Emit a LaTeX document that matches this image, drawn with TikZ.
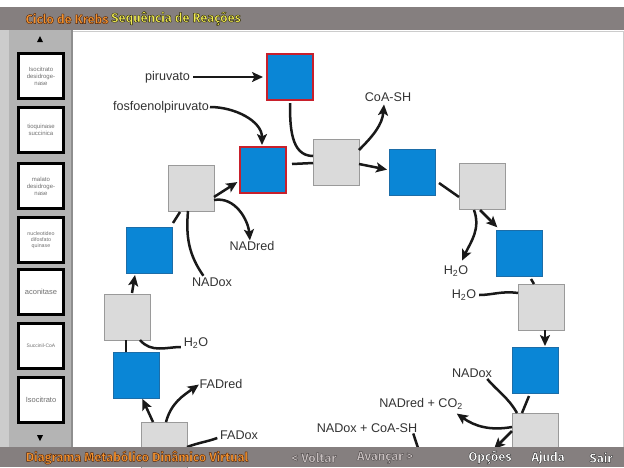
\documentclass[tikz,border=0pt]{standalone}
\usepackage{fontspec}
\setmainfont{Liberation Sans}
\newfontfamily\barfont{Fira Sans}
\usetikzlibrary{arrows.meta}

\definecolor{barbg}{HTML}{857F7F}
\definecolor{panelbg}{HTML}{B4B4B4}
\definecolor{panelline}{HTML}{8E8E8E}
\definecolor{metblue}{HTML}{0A86D6}
\definecolor{metedge}{HTML}{1C6DA8}
\definecolor{enzgray}{HTML}{DADADA}
\definecolor{enzedge}{HTML}{9A9A9A}
\definecolor{entryred}{HTML}{C8202C}
\definecolor{titleorange}{HTML}{F4922E}
\definecolor{titleyellow}{HTML}{F0EC50}
\definecolor{navgray}{HTML}{C8C0C0}
\definecolor{btntext}{HTML}{707070}

% bar lettering: filled glyphs with a stroked dark rim (text render mode 2)
% #1 fill colour, #2 rim colour as "r g b", #3 text
\newcommand{\rimtext}[3]{{\color{#1}\special{pdf:literal direct #2 RG 0.4 w 1 j 2 Tr}#3\special{pdf:literal direct 0 Tr}}}

\begin{document}
\begin{tikzpicture}[x=1pt,y=-1pt,
  every node/.style={inner sep=0pt, outer sep=0pt},
  enz/.style={draw=enzedge, fill=enzgray, line width=0.8pt, minimum width=46pt, minimum height=46pt},
  met/.style={draw=metedge, fill=metblue, line width=0.5pt, minimum width=46pt, minimum height=46pt},
  entry/.style={met, draw=entryred, line width=1.5pt},
  lbl/.style={font=\fontsize{12.6}{14}\selectfont, text=black!80},
  link/.style={line width=2.5pt, black!90},
  flow/.style={link, -{Stealth[length=11pt,width=10pt,inset=2.5pt]}},
  bartext/.style={font=\barfont\bfseries\fontsize{12.8}{14}\selectfont},
  btn/.style={draw=black, line width=2.2pt, fill=white, minimum width=45pt, minimum height=45pt,
              align=center, text=btntext, font=\fontsize{6}{7}\selectfont},
]
\useasboundingbox (0,0) rectangle (624,467);

% canvas
\fill[white] (0,0) rectangle (624,467);
\draw[black!20, line width=0.8pt] (72,31) -- (623,31) -- (623,447);

% ---------- metabolites and enzyme steps ----------
\node[entry] (r1) at (290,77) {};
\node[entry] (r2) at (263,170) {};
\node[enz] (g1) at (336,162) {};
\node[met] (b1) at (412,172) {};
\node[enz] (g2) at (482,186) {};
\node[met] (b2) at (519,253) {};
\node[enz] (g3) at (541,307) {};
\node[met] (b3) at (535,370) {};
\node[enz] (g4) at (535,436) {};
\node[enz] (gL1) at (191,188) {};
\node[met] (bL1) at (149,250) {};
\node[enz] (gL2) at (127,317) {};
\node[met] (bL2) at (136,375) {};
\node[enz] (gL3) at (164,445) {};

% ---------- labels ----------
\node[lbl, anchor=east] (pir) at (190,77) {piruvato};
\node[lbl, anchor=east] (pep) at (209,107) {fosfoenolpiruvato};
\node[lbl] (coa) at (388,97) {CoA-SH};
\node[lbl] (h2oa) at (456,271) {H\textsubscript{2}O};
\node[lbl] (h2ob) at (464,295) {H\textsubscript{2}O};
\node[lbl] (nadoxR) at (472,373) {NADox};
\node[lbl] (nadco) at (421,404) {NADred + CO\textsubscript{2}};
\node[lbl] (nadcoa) at (367,428) {NADox + CoA-SH};
\node[lbl] (nadred) at (252,246) {NADred};
\node[lbl] (nadoxL) at (212,282) {NADox};
\node[lbl] (h2oc) at (196,343) {H\textsubscript{2}O};
\node[lbl] (fadred) at (221,384) {FADred};
\node[lbl] (fadox) at (239,435) {FADox};

\coordinate (outA) at (494,449);
\coordinate (outB) at (419,451);

% ---------- connectors (shift offsets in picture units, y pointing down;
%            out/in angles in ordinary page directions) ----------
\draw[flow, shorten <=3pt, shorten >=4pt] (pir.east) -- (r1.west);
\draw[flow, shorten <=1pt, shorten >=2pt] (pep.east) to[out=0, in=90] ([shift={(-1,0)}]r2.north);
\draw[link] ([shift={(0,3)}]r1.south) to[out=-90, in=180] ([shift={(0,-6)}]g1.west);
\draw[link] ([shift={(6,-6)}]r2.east) -- ([shift={(0,1)}]g1.west);
\draw[flow, shorten >=2pt] ([shift={(0,2)}]g1.east) -- ([shift={(0,-2)}]b1.west);
\draw[flow] ([shift={(0,-12)}]g1.east) to[out=45, in=-95] ([shift={(-4,3)}]coa.south);
\draw[link] ([shift={(4,11)}]b1.east) -- ([shift={(0,11)}]g2.west);
\draw[flow, shorten >=1pt] ([shift={(-2,1)}]g2.south) -- ([shift={(2,-2)}]b2.north west);
\draw[flow] ([shift={(-8,1)}]g2.south) to[out=-70, in=65] ([shift={(6,-5)}]h2oa.north);
\draw[link] ([shift={(12,3)}]b2.south) -- ([shift={(-7,0)}]g3.north);
\draw[link, shorten <=3pt] (h2ob.east) to[out=0, in=172] ([shift={(0,-14)}]g3.west);
\draw[flow, shorten >=1pt] ([shift={(4,0)}]g3.south) -- ([shift={(10,0)}]b3.north);
\draw[link] ([shift={(-6,3)}]b3.south) -- ([shift={(-13,0)}]g4.north);
\draw[link, shorten <=2pt] ([shift={(-6,0)}]nadoxR.south east) to[out=-50, in=120] ([shift={(-18,0)}]g4.north);
\draw[flow] ([shift={(0,-9)}]g4.west) to[out=190, in=-35] ([shift={(-6,4)}]nadco.south east);
\draw[flow] ([shift={(0,-5)}]g4.west) -- (outA);
\draw[link] ([shift={(-4,1)}]nadcoa.south east) -- (outB);

\draw[flow, shorten >=2pt] ([shift={(0,9)}]gL1.east) -- ([shift={(-1,11)}]r2.west);
\draw[flow, shorten >=1pt] ([shift={(0,12)}]gL1.east) to[out=10, in=95] ([shift={(-2,0)}]nadred.north);
\draw[link, shorten <=1pt] ([shift={(-8,-1)}]nadoxL.north) to[out=125, in=-95] ([shift={(-3,0)}]gL1.south);
\draw[link] ([shift={(1,-4)}]bL1.north east) -- ([shift={(-11,1)}]gL1.south);
\draw[flow] ([shift={(5,-1)}]gL2.north) -- ([shift={(-14,2)}]bL1.south);
\draw[link] ([shift={(-10,0)}]bL2.north) -- ([shift={(-1,0)}]gL2.south);
\draw[link, shorten <=3pt] ([shift={(0,4)}]h2oc.west) to[out=180, in=-50] ([shift={(13,0)}]gL2.south);
\draw[flow, shorten >=1pt] ([shift={(-11,0)}]gL3.north) -- ([shift={(6,0)}]bL2.south);
\draw[flow, shorten >=1pt] ([shift={(2,0)}]gL3.north) to[out=75, in=-145] (fadred.west);
\draw[link, shorten <=3pt] ([shift={(0,2)}]fadox.west) to[out=200, in=20] ([shift={(0,2)}]gL3.east);

% ---------- side panel ----------
\fill[black!20] (0,30) rectangle (9,447);
\fill[panelbg] (9,30) rectangle (72,447);
\draw[panelline, line width=1.2pt] (72,30) -- (72,447);
\fill[black] (37,42) -- (43,42) -- (40,36) -- cycle;
\fill[black] (37,435) -- (43,435) -- (40,441) -- cycle;
\node[btn] (e1) at (41,76) {Isocitrato\\desidroge-\\nase};
\node[btn] (e2) at (41,130) {tioquinase\\succinica};
\node[btn] (e3) at (41,186) {malato\\desidroge-\\nase};
\node[btn, font=\fontsize{5.3}{6.3}\selectfont] (e4) at (41,240) {nucleotideo\\difosfato\\quinase};
\node[btn, font=\fontsize{7.5}{9}\selectfont] (e5) at (41,292) {aconitase};
\node[btn, font=\fontsize{5}{6}\selectfont] (e6) at (41,346) {Succinil-CoA};
\node[btn, font=\fontsize{7.5}{9}\selectfont] (e7) at (41,400) {Isocitrato};

% ---------- title bar and bottom bar ----------
\fill[barbg] (0,7) rectangle (624,30);
\fill[barbg] (0,447) rectangle (624,467);

\node[bartext] (ttlA) at (67,18.5) {\rimtext{titleorange}{0.30 0.14 0.05}{Ciclo de Krebs}};
\node[bartext] (ttlB) at (176,18.5) {\rimtext{titleyellow}{0.15 0.13 0.05}{Sequência de Reações}};
\node[bartext] (foot) at (137,457.5) {\rimtext{titleorange}{0.30 0.14 0.05}{Diagrama Metabólico Dinâmico Virtual}};
\node[bartext] (back) at (314,457.5) {\rimtext{navgray}{0.30 0.28 0.28}{< Voltar}};
\node[bartext] (next) at (385,457.5) {\rimtext{navgray}{0.30 0.28 0.28}{Avançar >}};
\node[bartext] (opts) at (490,457.5) {\rimtext{white}{0.20 0.20 0.20}{Opções}};
\node[bartext] (help) at (548,457.5) {\rimtext{white}{0.20 0.20 0.20}{Ajuda}};
\node[bartext] (quit) at (601,457.5) {\rimtext{white}{0.20 0.20 0.20}{Sair}};
\end{tikzpicture}
\end{document}
